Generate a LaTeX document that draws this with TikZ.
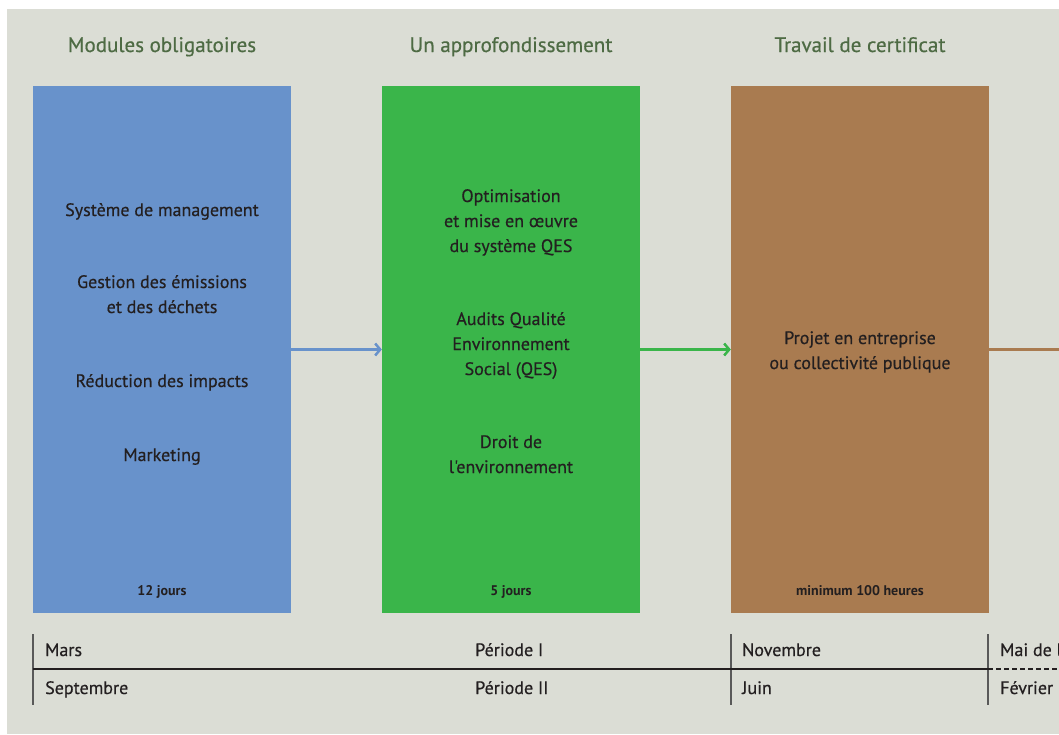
\documentclass[tikz,border=0pt]{standalone}
\usepackage{fontspec}
\setmainfont{PT Sans}
\newfontfamily\moyen[FakeBold=0.5]{PT Sans}
\usepackage{xcolor}
\usetikzlibrary{positioning,arrows.meta}
\definecolor{fond}{HTML}{DBDDD5}
\definecolor{bleu}{HTML}{6892CB}
\definecolor{vert}{HTML}{3AB54A}
\definecolor{brun}{HTML}{A97B50}
\definecolor{titrevert}{HTML}{4E6B44}
\definecolor{encre}{HTML}{231F20}

\begin{document}
\begin{tikzpicture}[x=1pt,y=-1pt,
  bloc/.style={minimum width=258pt,minimum height=527pt,inner sep=0pt},
  titre/.style={anchor=base,text=titrevert,font=\moyen\fontsize{21}{25}\selectfont},
  texte/.style={anchor=base,align=center,text=encre,font=\moyen\fontsize{18}{25}\selectfont},
  duree/.style={anchor=base,text=encre,font=\bfseries\fontsize{14}{16}\selectfont},
  mois/.style={anchor=base west,inner sep=0pt,text=encre,font=\moyen\fontsize{18}{20}\selectfont},
  fleche/.style={line width=3.5pt,-{Straight Barb[length=5pt,width=12pt,line width=2.5pt]}}]
\useasboundingbox (0,0) rectangle (1059,734);
\fill[fond] (7,9) rectangle (1059,734);
\def\ligne{669}
% les trois blocs
\node[bloc,fill=bleu] (modules) at (162,349.5) {};
\node[bloc,fill=vert] (approf) at (511,349.5) {};
\node[bloc,fill=brun] (certif) at (860,349.5) {};
\coordinate (sortie) at (1059,349.5);
\node[titre] (tmod) at (162,52) {Modules obligatoires};
\node[titre] (tapp) at (511,52) {Un approfondissement};
\node[titre] (tcer) at (860,52) {Travail de certificat};
% base = derniere ligne
\node[texte] (sysman) at (162,216) {Système de management};
\node[texte] (gestion) at (162,313) {Gestion des émissions\\et des déchets};
\node[texte] (reduc) at (162,387) {Réduction des impacts};
\node[texte] (market) at (162,461) {Marketing};
\node[texte] (optim) at (511,252) {Optimisation\\et mise en œuvre\\du système QES};
\node[texte] (audits) at (511,375) {Audits Qualité\\Environnement\\Social (QES)};
\node[texte] (droit) at (511,473) {Droit de\\l'environnement};
\node[texte] (projet) at (860,369) {Projet en entreprise\\ou collectivité publique};
\node[duree] (d1) at (162,595) {12 jours};
\node[duree] (d2) at (511,595) {5 jours};
\node[duree] (d3) at (860,595) {minimum 100 heures};
\draw[fleche,bleu] (modules) -- (approf);
\draw[fleche,vert] (approf) -- (certif);
\draw[line width=3.5pt,brun] (certif) -- (sortie);
% calendrier
\foreach \x in {33,731,988}
  \draw[line width=1.6pt,black!65] (\x,634) -- (\x,705);
\draw[line width=1.4pt,encre] (33,\ligne) -- (988,\ligne);
\draw[line width=1.4pt,encre,dash pattern=on 5pt off 3pt] (988,\ligne) -- (1059,\ligne);
\node[mois] (mars) at (45,656) {Mars};
\node[mois] (sept) at (45,694) {Septembre};
\node[mois] (p1) at (475,656) {Période I};
\node[mois] (p2) at (475,694) {Période II};
\node[mois] (nov) at (742,656) {Novembre};
\node[mois] (juin) at (742,694) {Juin};
\node[mois] (mai) at (1000,656) {Mai de l'};
\node[mois] (fev) at (1000,694) {Février};
\end{tikzpicture}
\end{document}
